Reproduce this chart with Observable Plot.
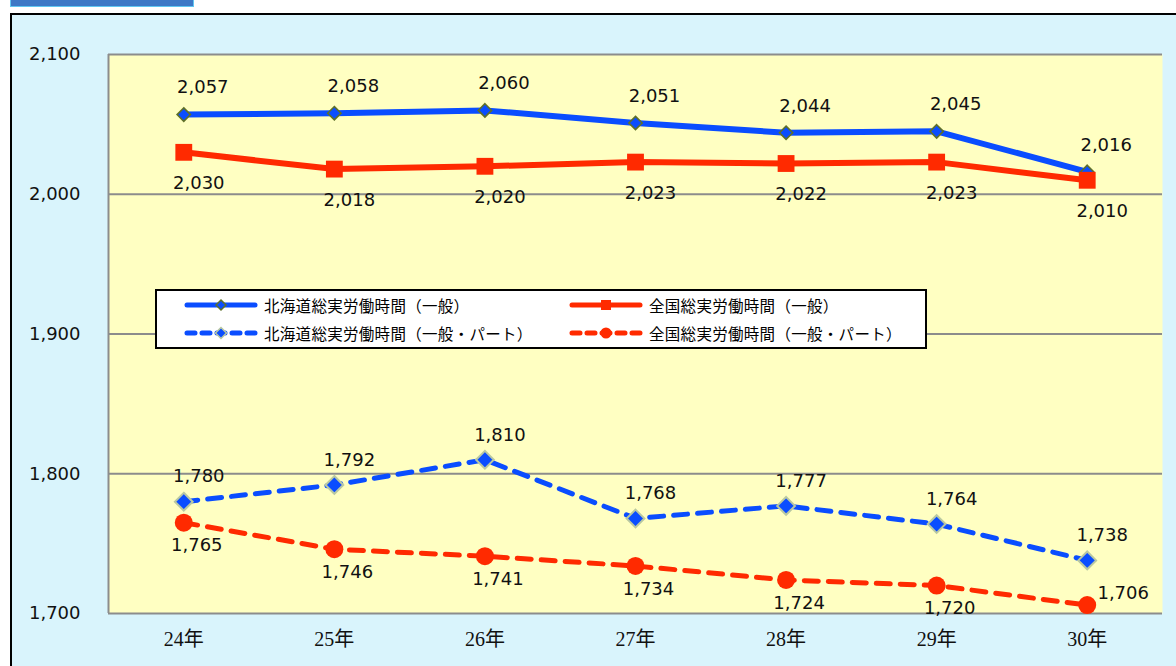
<!DOCTYPE html>
<html>
<head>
<meta charset="utf-8">
<script src="https://cdn.jsdelivr.net/npm/d3@7"></script>
<script src="https://cdn.jsdelivr.net/npm/@observablehq/plot@0.6"></script>
<style>
  html, body { margin: 0; padding: 0; background: #ffffff; }
  #page { position: relative; width: 1176px; height: 666px; overflow: hidden; background: #ffffff; }
  #tab { position: absolute; left: 10px; top: -2px; width: 182px; height: 7px; background: #3d78c6; border: 1px solid #5fc6f2; }
  #panel { position: absolute; left: 10px; top: 13px; width: 1200px; height: 700px; background: #d9f4fc; border: 2px solid #000; }
  #chart { position: absolute; left: 0; top: 0; }
  #legend { position: absolute; left: 155px; top: 289px; width: 768px; height: 56px; background: #fff; border: 2px solid #000;
            font-family: "Noto Sans CJK JP", "Noto Sans", sans-serif; font-size: 15.5px; letter-spacing: 0.3px; color: #000; }
  .item { position: absolute; display: flex; align-items: center; height: 20px; }
  .item svg { margin-right: 6px; }
</style>
</head>
<body>
<div id="page">
  <div id="tab"></div>
  <div id="panel"></div>
  <div id="chart"></div>
  <div id="legend"></div>
</div>
<script>
const years = ["24年", "25年", "26年", "27年", "28年", "29年", "30年"];
const hokkaidoGeneral = [2057, 2058, 2060, 2051, 2044, 2045, 2016];
const nationalGeneral = [2030, 2018, 2020, 2023, 2022, 2023, 2010];
const hokkaidoPart = [1780, 1792, 1810, 1768, 1777, 1764, 1738];
const nationalPart = [1765, 1746, 1741, 1734, 1724, 1720, 1706];
const yTicks = [1700, 1800, 1900, 2000, 2100];
const seriesNames = [
  "北海道総実労働時間（一般）",
  "全国総実労働時間（一般）",
  "北海道総実労働時間（一般・パート）",
  "全国総実労働時間（一般・パート）"
];

const BLUE = "#0a4dff";
const RED = "#ff2a00";
const fmt = d3.format(",");
const rows = arr => years.map((year, i) => ({i, year, value: arr[i]}));

const hg = rows(hokkaidoGeneral);
const ng = rows(nationalGeneral);
const hp = rows(hokkaidoPart);
const np = rows(nationalPart);
const last = years.length - 1;

const labelOpts = {x: "i", y: "value", text: d => fmt(d.value), fontSize: 18, fill: "#111"};

const chart = Plot.plot({
  width: 1176,
  height: 666,
  marginLeft: 108,
  marginRight: 14,
  marginTop: 54,
  marginBottom: 53,
  style: {background: "transparent", fontFamily: "DejaVu Sans, Verdana, sans-serif", fontSize: "18px", color: "#111"},
  x: {type: "linear", domain: [-0.5, years.length - 0.5]},
  y: {domain: [1700, 2100]},
  marks: [
    Plot.frame({fill: "#ffffc2", stroke: null}),
    Plot.ruleY(yTicks, {stroke: "#8c8c8c", strokeWidth: 2}),
    Plot.ruleX([-0.5], {stroke: "#8c8c8c", strokeWidth: 2}),
    Plot.axisY({ticks: yTicks, tickSize: 0, tickPadding: 28, tickFormat: fmt, fontSize: 18, label: null}),
    Plot.axisX({ticks: d3.range(years.length), tickSize: 0, tickPadding: 18, tickFormat: i => years[i],
      fontFamily: "Liberation Serif, Noto Sans CJK JP, serif", fontSize: 20, label: null}),

    // 一般・パート (dashed)
    Plot.line(hp, {x: "i", y: "value", stroke: BLUE, strokeWidth: 5, strokeDasharray: "14,10", strokeLinecap: "round"}),
    Plot.dot(hp, {x: "i", y: "value", symbol: "diamond2", r: 8, fill: BLUE, stroke: "#b9c8a2", strokeWidth: 2}),
    Plot.line(np, {x: "i", y: "value", stroke: RED, strokeWidth: 5, strokeDasharray: "14,10", strokeLinecap: "round"}),
    Plot.dot(np, {x: "i", y: "value", symbol: "circle", r: 9, fill: RED, stroke: null}),

    // 一般 (solid)
    Plot.line(hg, {x: "i", y: "value", stroke: BLUE, strokeWidth: 6}),
    Plot.dot(hg, {x: "i", y: "value", symbol: "diamond2", r: 6, fill: BLUE, stroke: "#5f7029", strokeWidth: 1.6}),
    Plot.line(ng, {x: "i", y: "value", stroke: RED, strokeWidth: 6}),
    Plot.dot(ng, {x: "i", y: "value", symbol: "square", r: 9.5, fill: RED, stroke: null}),

    // data labels
    Plot.text(hg, {...labelOpts, dx: 19, dy: -27}),
    Plot.text(ng, {...labelOpts, dx: 15, dy: 31}),
    Plot.text(hp, {...labelOpts, dx: 15, dy: -25}),
    Plot.text(np.filter(d => d.i < last), {...labelOpts, dx: 13, dy: 23}),
    Plot.text(np.filter(d => d.i === last), {...labelOpts, dx: 36, dy: -12})
  ]
});
document.getElementById("chart").appendChild(chart);

// legend
function swatch(color, dashed, marker) {
  const w = 74, h = 14, cy = 7;
  let m = "";
  const cx = w / 2;
  if (marker === "smallDiamond") m = `<path d="M${cx},${cy-5}L${cx+5},${cy}L${cx},${cy+5}L${cx-5},${cy}Z" fill="${color}" stroke="#5f7029" stroke-width="1.5"/>`;
  if (marker === "bigDiamond") m = `<path d="M${cx},${cy-5.5}L${cx+5.5},${cy}L${cx},${cy+5.5}L${cx-5.5},${cy}Z" fill="${color}" stroke="#b9c8a2" stroke-width="1.5"/>`;
  if (marker === "square") m = `<rect x="${cx-5}" y="${cy-5}" width="10" height="10" fill="${color}"/>`;
  if (marker === "circle") m = `<circle cx="${cx}" cy="${cy}" r="5.5" fill="${color}"/>`;
  const dash = dashed ? `stroke-dasharray="8,7"` : "";
  return `<svg width="${w}" height="${h}"><line x1="3" y1="${cy}" x2="${w-3}" y2="${cy}" stroke="${color}" stroke-width="5" stroke-linecap="round" ${dash}/>${m}</svg>`;
}
const legendItems = [
  {name: seriesNames[0], color: BLUE, dashed: false, marker: "smallDiamond", left: 27, top: 4},
  {name: seriesNames[1], color: RED, dashed: false, marker: "square", left: 412, top: 4},
  {name: seriesNames[2], color: BLUE, dashed: true, marker: "bigDiamond", left: 27, top: 32},
  {name: seriesNames[3], color: RED, dashed: true, marker: "circle", left: 412, top: 32}
];
const legend = document.getElementById("legend");
for (const it of legendItems) {
  const div = document.createElement("div");
  div.className = "item";
  div.style.left = it.left + "px";
  div.style.top = it.top + "px";
  div.innerHTML = swatch(it.color, it.dashed, it.marker) + `<span>${it.name}</span>`;
  legend.appendChild(div);
}
</script>
</body>
</html>
